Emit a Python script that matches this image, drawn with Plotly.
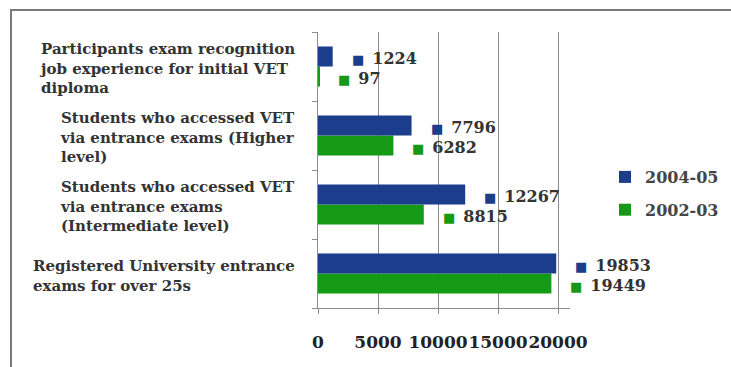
import plotly.graph_objects as go

# Data (bottom-to-top order as Plotly draws categories)
categories = [
    "Registered University entrance<br>exams for over 25s",
    "Students who accessed VET<br>via entrance exams<br>(Intermediate level)",
    "Students who accessed VET<br>via entrance exams (Higher<br>level)",
    "Participants exam recognition<br>job experience for initial VET<br>diploma",
]
series_names = ["2004-05", "2002-03"]
values_2004_05 = [19853, 12267, 7796, 1224]
values_2002_03 = [19449, 8815, 6282, 97]
x_ticks = [0, 5000, 10000, 15000, 20000]

BLUE = "#1b3d8c"
GREEN = "#149a14"
FONT = "DejaVu Serif"

W, H = 731, 367
ML, MR, MT, MB = 318, 161, 32, 59
PW, PH = W - ML - MR, H - MT - MB

fig = go.Figure()
fig.add_trace(go.Bar(y=categories, x=values_2002_03, name=series_names[1], orientation="h",
                     marker=dict(color=GREEN, line=dict(width=0)), legendgroup="b", legendrank=2))
fig.add_trace(go.Bar(y=categories, x=values_2004_05, name=series_names[0], orientation="h",
                     marker=dict(color=BLUE, line=dict(width=0)), legendgroup="a", legendrank=1))

annotations = []
for vals, col, shift in ((values_2004_05, BLUE, 8), (values_2002_03, GREEN, -12)):
    for c, v in zip(categories, vals):
        annotations.append(dict(
            x=v, y=c, xref="x", yref="y", xanchor="left", yanchor="middle",
            xshift=17, yshift=shift, showarrow=False,
            text=f"<span style='color:{col};font-family:DejaVu Sans;font-size:13px'>■</span>\u2002{v}",
            font=dict(family=FONT, size=16, color="#333333", weight="bold"),
        ))
for c in categories:
    annotations.append(dict(
        x=0, y=c, xref="paper", yref="y", xanchor="right", yanchor="middle",
        xshift=-21, yshift=-2, showarrow=False, align="left", text=c,
        font=dict(family=FONT, size=15, color="#333333", weight="bold"),
    ))

def px_x(p):
    return (p - ML) / PW

def px_y(p):
    return (H - MB - p) / PH

fig.update_layout(
    width=W, height=H,
    margin=dict(l=ML, r=MR, t=MT, b=MB, autoexpand=False),
    paper_bgcolor="white", plot_bgcolor="white",
    barmode="group", bargap=0.42, bargroupgap=0,
    font=dict(family=FONT, size=16, color="#222222"),
    showlegend=True,
    legend=dict(x=px_x(605), y=px_y(160), xanchor="left", yanchor="top",
                traceorder="grouped", tracegroupgap=9, bgcolor="rgba(0,0,0,0)",
                font=dict(family=FONT, size=16, color="#444444", weight="bold")),
    annotations=annotations,
    shapes=[dict(type="rect", xref="paper", yref="paper",
                 x0=px_x(11), x1=px_x(745), y0=px_y(380), y1=px_y(10),
                 line=dict(color="#7a7a7a", width=2), fillcolor="rgba(0,0,0,0)", layer="below")],
    xaxis=dict(range=[0, 21000], tickvals=x_ticks, ticktext=[str(t) for t in x_ticks],
               showgrid=True, gridcolor="#8c8c8c", gridwidth=1, zeroline=False,
               showline=True, linecolor="#8c8c8c", linewidth=1,
               ticks="outside", ticklen=5, tickcolor="#8c8c8c",
               ticklabelstandoff=14, tickangle=0, automargin=False,
               tickfont=dict(family=FONT, size=17, color="#222222", weight="bold")),
    yaxis=dict(showticklabels=False, showgrid=False, zeroline=False, automargin=False,
               showline=True, linecolor="#8c8c8c", linewidth=1,
               ticks="outside", ticklen=5, tickcolor="#8c8c8c", tickson="boundaries"),
)

fig.write_html("out.html")
